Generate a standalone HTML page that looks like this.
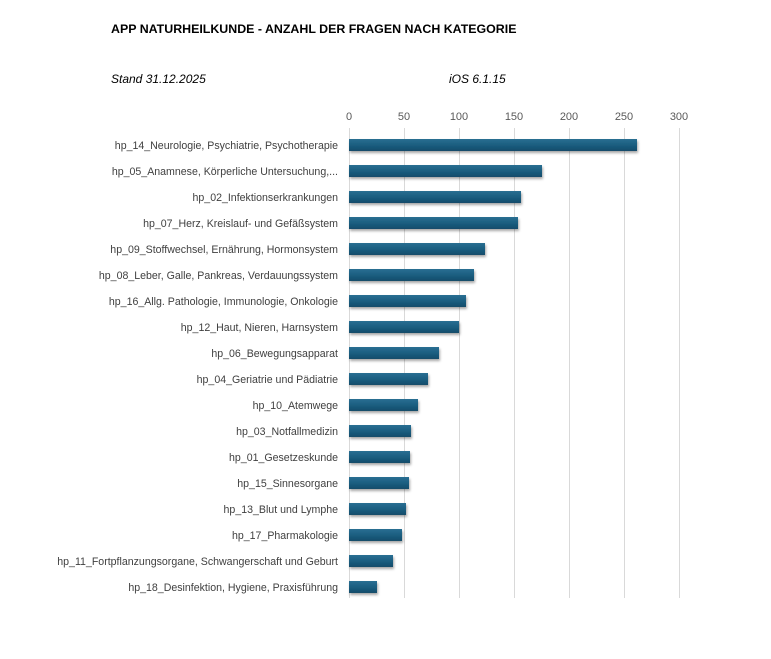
<!DOCTYPE html>
<html><head><meta charset="utf-8"><style>
body{margin:0;background:#fff;}
svg text{font-family:"Liberation Sans",sans-serif;}
</style></head><body>
<svg width="771" height="654" xmlns="http://www.w3.org/2000/svg">
<defs>
<linearGradient id="g" x1="0" y1="0" x2="0" y2="1">
<stop offset="0" stop-color="#2a6f92"/><stop offset="0.5" stop-color="#1b5e80"/><stop offset="1" stop-color="#134c6a"/>
</linearGradient>
<filter id="s" x="-5%" y="-30%" width="110%" height="180%"><feDropShadow dx="1" dy="2" stdDeviation="1.2" flood-color="#000" flood-opacity="0.35"/></filter>
</defs>
<text x="111" y="33" font-size="12.4" font-weight="bold" fill="#000">APP NATURHEILKUNDE - ANZAHL DER FRAGEN NACH KATEGORIE</text>
<text x="111" y="83" font-size="12" font-style="italic" fill="#000">Stand 31.12.2025</text>
<text x="449" y="83" font-size="12" font-style="italic" fill="#000">iOS 6.1.15</text>
<g stroke="#d9d9d9" stroke-width="1">
<line x1="349.5" y1="128" x2="349.5" y2="598"/><line x1="404.5" y1="128" x2="404.5" y2="598"/><line x1="459.5" y1="128" x2="459.5" y2="598"/><line x1="514.5" y1="128" x2="514.5" y2="598"/><line x1="569.5" y1="128" x2="569.5" y2="598"/><line x1="624.5" y1="128" x2="624.5" y2="598"/><line x1="679.5" y1="128" x2="679.5" y2="598"/>
</g>
<g font-size="11" fill="#595959" text-anchor="middle">
<text x="349" y="120">0</text><text x="404" y="120">50</text><text x="459" y="120">100</text><text x="514" y="120">150</text><text x="569" y="120">200</text><text x="624" y="120">250</text><text x="679" y="120">300</text>
</g>
<g fill="url(#g)" filter="url(#s)">
<rect x="349" y="139" width="288" height="12"/>
<rect x="349" y="165" width="193" height="12"/>
<rect x="349" y="191" width="172" height="12"/>
<rect x="349" y="217" width="169" height="12"/>
<rect x="349" y="243" width="136" height="12"/>
<rect x="349" y="269" width="125" height="12"/>
<rect x="349" y="295" width="117" height="12"/>
<rect x="349" y="321" width="110" height="12"/>
<rect x="349" y="347" width="90" height="12"/>
<rect x="349" y="373" width="79" height="12"/>
<rect x="349" y="399" width="69" height="12"/>
<rect x="349" y="425" width="62" height="12"/>
<rect x="349" y="451" width="61" height="12"/>
<rect x="349" y="477" width="60" height="12"/>
<rect x="349" y="503" width="57" height="12"/>
<rect x="349" y="529" width="53" height="12"/>
<rect x="349" y="555" width="44" height="12"/>
<rect x="349" y="581" width="28" height="12"/>
</g>
<g font-size="10.6" fill="#404040" text-anchor="end">
<text x="338" y="149">hp_14_Neurologie, Psychiatrie, Psychotherapie</text>
<text x="338" y="175">hp_05_Anamnese, Körperliche Untersuchung,...</text>
<text x="338" y="201">hp_02_Infektionserkrankungen</text>
<text x="338" y="227">hp_07_Herz, Kreislauf- und Gefäßsystem</text>
<text x="338" y="253">hp_09_Stoffwechsel, Ernährung, Hormonsystem</text>
<text x="338" y="279">hp_08_Leber, Galle, Pankreas, Verdauungssystem</text>
<text x="338" y="305">hp_16_Allg. Pathologie, Immunologie, Onkologie</text>
<text x="338" y="331">hp_12_Haut, Nieren, Harnsystem</text>
<text x="338" y="357">hp_06_Bewegungsapparat</text>
<text x="338" y="383">hp_04_Geriatrie und Pädiatrie</text>
<text x="338" y="409">hp_10_Atemwege</text>
<text x="338" y="435">hp_03_Notfallmedizin</text>
<text x="338" y="461">hp_01_Gesetzeskunde</text>
<text x="338" y="487">hp_15_Sinnesorgane</text>
<text x="338" y="513">hp_13_Blut und Lymphe</text>
<text x="338" y="539">hp_17_Pharmakologie</text>
<text x="338" y="565">hp_11_Fortpflanzungsorgane, Schwangerschaft und Geburt</text>
<text x="338" y="591">hp_18_Desinfektion, Hygiene, Praxisführung</text>
</g>
</svg>
</body></html>
